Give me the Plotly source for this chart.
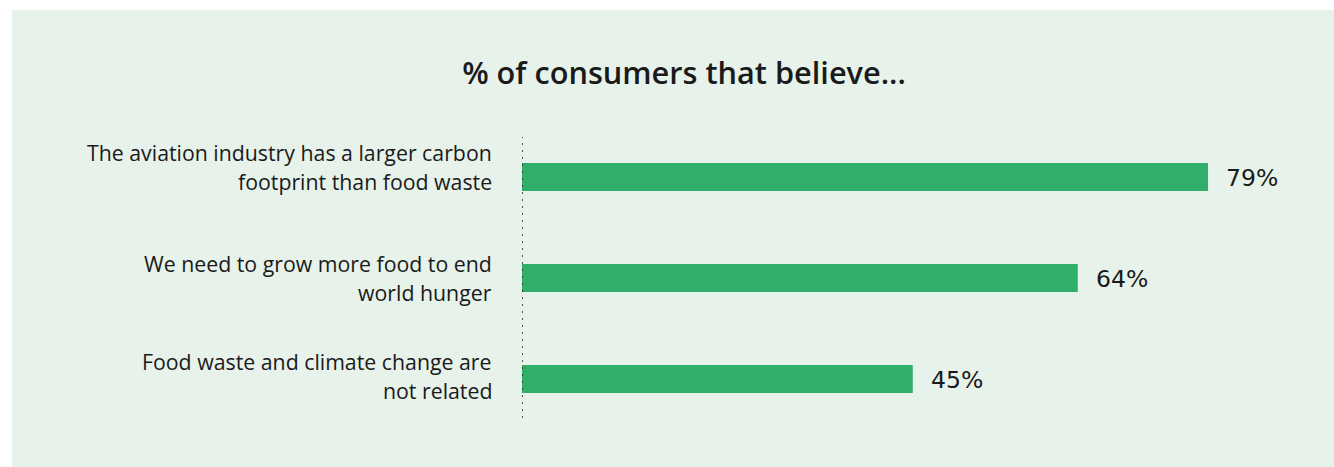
import plotly.graph_objects as go

categories = [
    "The aviation industry has a larger carbon<br>footprint than food waste",
    "We need to grow more food to end<br>world hunger",
    "Food waste and climate change are<br>not related",
]
values = [79, 64, 45]
value_labels = ["79%", "64%", "45%"]
title_text = "% of consumers that believe..."

# layout (pixel targets; page body margin removed via post_script)
W, H = 1334, 467
L = 522
T = 137
plot_bottom = 418
plot_right = 1303
R = W - plot_right
B = H - plot_bottom
plot_w = plot_right - L
plot_h = plot_bottom - T
x_max = plot_w / 8.684
label_block_shift = [10, 0, 3]
line_gap = 29.5

PANEL = "#e6f2ea"
BAR = "#31ae6b"
TXT = "#1a1a1a"

fig = go.Figure()
fig.add_trace(go.Bar(
    x=values, y=categories, orientation="h",
    marker=dict(color=BAR, line=dict(width=0)),
    width=0.277, hoverinfo="skip",
))

annotations = []
for c, v, t, sh in zip(categories, values, value_labels, label_block_shift):
    annotations.append(dict(
        x=v, y=c, xref="x", yref="y", text=t, showarrow=False,
        xanchor="left", yanchor="middle", xshift=16, yshift=-1,
        font=dict(family="DejaVu Sans", size=23.5, color=TXT),
    ))
    lines = c.split("<br>")
    n = len(lines)
    for i, ln in enumerate(lines):
        annotations.append(dict(
            x=0, y=c, xref="x", yref="y", text=ln, showarrow=False,
            xanchor="right", yanchor="middle", align="right", xshift=-28,
            yshift=sh - (i - (n - 1) / 2) * line_gap,
            font=dict(family="Open Sans", size=21.3, color=TXT),
        ))

fig.update_layout(
    width=W, height=H,
    margin=dict(l=L, r=R, t=T, b=B, pad=0),
    paper_bgcolor=PANEL,
    plot_bgcolor="rgba(0,0,0,0)",
    showlegend=False,
    title=dict(
        text=title_text,
        x=684 / W, y=1 - 73 / H, xref="container", yref="container",
        xanchor="center", yanchor="middle",
        font=dict(family="Open Sans", size=30.7, color=TXT, weight=650),
    ),
    xaxis=dict(range=[0, x_max], visible=False, fixedrange=True),
    yaxis=dict(
        categoryorder="array", categoryarray=categories,
        range=[2.386, -0.396], showticklabels=False, showgrid=False,
        zeroline=False, showline=False, ticks="", fixedrange=True,
    ),
    annotations=annotations,
    shapes=[
        # white strips left and top of the green panel
        dict(type="rect", xref="paper", yref="paper", layer="below",
             x0=(-L - 5) / plot_w, x1=(12 - L) / plot_w,
             y0=(plot_bottom - H - 5) / plot_h, y1=(plot_bottom + 5) / plot_h,
             fillcolor="white", line=dict(width=0)),
        dict(type="rect", xref="paper", yref="paper", layer="below",
             x0=(-L - 5) / plot_w, x1=(W - L + 5) / plot_w,
             y0=(plot_bottom - 10) / plot_h, y1=(plot_bottom + 5) / plot_h,
             fillcolor="white", line=dict(width=0)),
        dict(type="line", xref="x", yref="paper", x0=0, x1=0, y0=0, y1=1,
             line=dict(color="#222222", width=1.5, dash="2px,5px"), layer="above"),
    ],
)

fig.write_html(
    "out.html",
    config={"displayModeBar": False, "staticPlot": True},
    post_script=(
        "document.body.style.margin='0';"
        "document.body.style.overflow='hidden';"
        "document.documentElement.style.overflow='hidden';"
        "document.body.style.background='" + PANEL + "';"
        "document.documentElement.style.background='" + PANEL + "';"
    ),
)
